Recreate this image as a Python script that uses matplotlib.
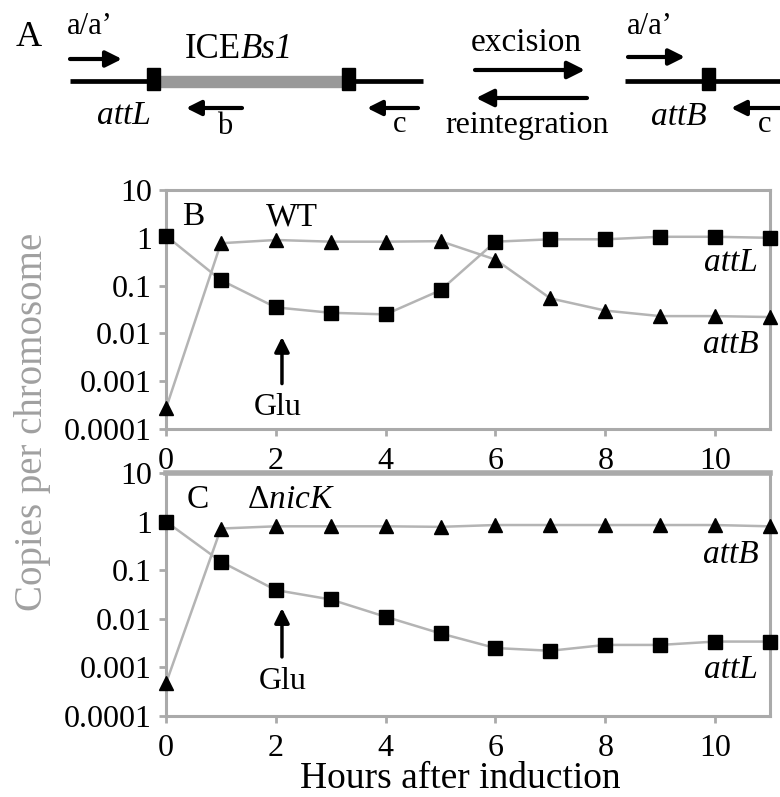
import matplotlib
matplotlib.use('Agg')
import matplotlib.pyplot as plt
from matplotlib.patches import Rectangle

plt.rcParams['font.family'] = ['Liberation Serif', 'DejaVu Serif']
plt.rcParams['mathtext.fontset'] = 'custom'
plt.rcParams['mathtext.rm'] = 'Liberation Serif'
plt.rcParams['mathtext.it'] = 'Liberation Serif:italic'

# data (copies per chromosome)
hours = list(range(12))
wt_attL = [1.1, 0.13, 0.035, 0.027, 0.025, 0.08, 0.83, 0.93, 0.93, 1.05, 1.05, 1.0]
wt_attB = [0.00027, 0.77, 0.9, 0.83, 0.83, 0.85, 0.35, 0.054, 0.03, 0.023, 0.023, 0.022]
nick_attL = [1.0, 0.15, 0.039, 0.025, 0.011, 0.005, 0.0025, 0.0022, 0.0029, 0.0029,
             0.0034, 0.0034]
nick_attB = [0.00047, 0.72, 0.8, 0.8, 0.8, 0.78, 0.85, 0.85, 0.85, 0.85, 0.85, 0.8]

y_ticks = [1e-4, 1e-3, 1e-2, 1e-1, 1, 10]
y_labels = ['0.0001', '0.001', '0.01', '0.1', '1', '10']
x_ticks = [0, 2, 4, 6, 8, 10]

GRAY = '#aaaaaa'
LINE = '#b4b4b4'
FS = 23

fig = plt.figure(figsize=(7.8, 7.97), dpi=100)


def arrow(ax, x0, y0, x1, y1, lw=3.0, ms=22):
    ax.annotate('', xy=(x1, y1), xytext=(x0, y0),
                arrowprops=dict(arrowstyle='-|>', lw=lw, color='k',
                                mutation_scale=ms, shrinkA=0, shrinkB=0))


# ---- panel A: schematic ----
sa = fig.add_axes([0, 1 - 150 / 797, 1, 150 / 797])
sa.set_xlim(0, 780)
sa.set_ylim(150, 0)
sa.axis('off')

sa.text(29, 38, 'A', fontsize=26, ha='center', va='center')
sa.text(90, 27, 'a/a\u2019', fontsize=FS - 1, ha='center', va='center')
arrow(sa, 70, 59, 122, 59, ms=24)
sa.plot([70, 423], [81, 81], color='k', lw=3.4, solid_capstyle='butt')
sa.add_patch(Rectangle((160, 76), 182, 11, color='#999999', zorder=3))
sa.add_patch(Rectangle((147, 68), 13, 22, color='k', zorder=4))
sa.add_patch(Rectangle((342, 68), 13, 22, color='k', zorder=4))
sa.text(241, 50, 'ICE', fontsize=FS + 2, ha='right', va='center')
sa.text(241, 50, 'Bs1', fontsize=FS + 2, style='italic', ha='left', va='center')
sa.text(124, 116, 'attL', fontsize=FS + 1, style='italic', ha='center', va='center')
arrow(sa, 242, 108, 186, 108)
sa.text(225, 126, 'b', fontsize=FS - 1, ha='center', va='center')
arrow(sa, 418, 108, 367, 108)
sa.text(400, 125, 'c', fontsize=FS - 1, ha='center', va='center')

sa.text(526, 43, 'excision', fontsize=FS + 1, ha='center', va='center')
arrow(sa, 475, 70, 585, 70, ms=26)
arrow(sa, 587, 98, 476, 98, ms=26)
sa.text(527, 126, 'reintegration', fontsize=FS, ha='center', va='center')

sa.text(650, 27, 'a/a\u2019', fontsize=FS - 1, ha='center', va='center')
arrow(sa, 628, 57, 685, 57, ms=24)
sa.plot([625, 780], [81, 81], color='k', lw=3.4, solid_capstyle='butt')
sa.add_patch(Rectangle((702, 68), 13, 22, color='k', zorder=4))
sa.text(679, 117, 'attB', fontsize=FS + 1, style='italic', ha='center', va='center')
arrow(sa, 782, 108, 731, 108)
sa.text(765, 125, 'c', fontsize=FS - 1, ha='center', va='center')


# ---- panels B and C ----
def panel(rect, attL, attB):
    ax = fig.add_axes(rect)
    ax.plot(hours, attL, color=LINE, lw=1.8, marker='s', ms=9.5,
            mfc='k', mec='k', clip_on=False, zorder=3)
    ax.plot(hours, attB, color=LINE, lw=1.8, marker='^', ms=9.5,
            mfc='k', mec='k', clip_on=False, zorder=3)
    ax.set_yscale('log')
    ax.set_ylim(1e-4, 10)
    ax.set_xlim(0, 11)
    ax.set_yticks(y_ticks)
    ax.set_yticklabels(y_labels)
    ax.minorticks_off()
    ax.set_xticks(x_ticks)
    ax.tick_params(axis='both', labelsize=FS, color=GRAY, width=2, length=5)
    ax.tick_params(axis='x', pad=8)
    ax.tick_params(axis='y', pad=5)
    for s in ax.spines.values():
        s.set_color(GRAY)
        s.set_linewidth(2.2)
    return ax


axB = panel([166 / 780, 1 - 429 / 797, 604 / 780, 239 / 797], wt_attL, wt_attB)
axC = panel([166 / 780, 1 - 716 / 797, 604 / 780, 243 / 797], nick_attL, nick_attB)
axC.spines['top'].set_linewidth(4)

axB.text(0.045, 0.887, 'B', transform=axB.transAxes, fontsize=FS + 1,
         ha='center', va='center')
axB.text(0.209, 0.887, 'WT', transform=axB.transAxes, fontsize=FS + 1,
         ha='center', va='center')
axB.annotate('', xy=(0.192, 0.385), xytext=(0.192, 0.19), xycoords='axes fraction',
             arrowprops=dict(arrowstyle='-|>', lw=2.5, color='k', mutation_scale=22,
                             shrinkA=0, shrinkB=0))
axB.text(0.185, 0.09, 'Glu', transform=axB.transAxes, fontsize=FS,
         ha='center', va='center')
axB.text(0.935, 0.695, 'attL', transform=axB.transAxes, fontsize=FS + 1,
         style='italic', ha='center', va='center')
axB.text(0.935, 0.351, 'attB', transform=axB.transAxes, fontsize=FS + 1,
         style='italic', ha='center', va='center')

axC.text(0.053, 0.889, 'C', transform=axC.transAxes, fontsize=FS + 1,
         ha='center', va='center')
axC.text(0.207, 0.889, r'$\Delta\mathit{nicK}$', transform=axC.transAxes,
         fontsize=FS + 1, ha='center', va='center')
axC.annotate('', xy=(0.192, 0.444), xytext=(0.192, 0.243), xycoords='axes fraction',
             arrowprops=dict(arrowstyle='-|>', lw=2.5, color='k', mutation_scale=22,
                             shrinkA=0, shrinkB=0))
axC.text(0.194, 0.14, 'Glu', transform=axC.transAxes, fontsize=FS,
         ha='center', va='center')
axC.text(0.935, 0.663, 'attB', transform=axC.transAxes, fontsize=FS + 1,
         style='italic', ha='center', va='center')
axC.text(0.935, 0.189, 'attL', transform=axC.transAxes, fontsize=FS + 1,
         style='italic', ha='center', va='center')

fig.text(460 / 780, 0.001, 'Hours after induction', fontsize=27,
         ha='center', va='bottom')
fig.text(33 / 780, 1 - 422 / 797, 'Copies per chromosome', rotation=90,
         fontsize=28, color='#a0a0a0', ha='center', va='center')

fig.savefig('out.png', dpi=100)
